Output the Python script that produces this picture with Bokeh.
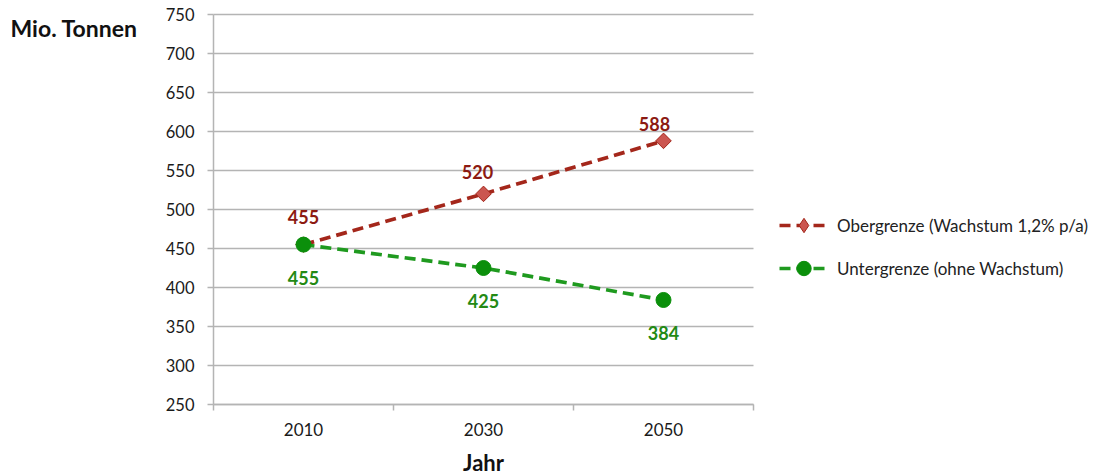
import math
from bokeh.plotting import figure
from bokeh.models import FixedTicker, Legend, LegendItem, Label, ColumnDataSource
from bokeh.core.properties import value
from bokeh.embed import file_html
from bokeh.resources import INLINE

# Data
years = ["2010", "2030", "2050"]
upper = [455, 520, 588]   # Obergrenze (Wachstum 1,2% p/a)
lower = [455, 425, 384]   # Untergrenze (ohne Wachstum)
y_ticks = list(range(250, 751, 50))
upper_name = "Obergrenze (Wachstum 1,2% p/a)"
lower_name = "Untergrenze (ohne Wachstum)"
unit_label = "Mio. Tonnen"
x_label = "Jahr"

# Page layout (pixels): the frame covers the whole canvas, the chart area
# sits inside it so that texts left of / below the axes stay visible.
W, H = 1118, 475
AREA_L, AREA_R, AREA_T, AREA_B = 213, 753, 14, 404

FONT = "Lato"
RED_LINE = "#a4271b"
RED_FILL = "#cb5650"
RED_TEXT = "#8c1a12"
GREEN_LINE = "#1f9a1f"
GREEN_FILL = "#0b8f0b"
GREEN_TEXT = "#238a14"
AXIS_GREY = "#b4b4b4"
TICK_TEXT = "#1a1a1a"

# category slots: each year sits in the middle of its slot
x = [i + 0.5 for i in range(len(years))]
bounds = [float(i) for i in range(len(years) + 1)]
y_lo, y_hi = y_ticks[0], y_ticks[-1]

# data units per pixel
kx = (bounds[-1] - bounds[0]) / (AREA_R - AREA_L)
ky = (y_hi - y_lo) / (AREA_B - AREA_T)


def px_x(px):
    return bounds[0] + (px - AREA_L) * kx


def px_y(py):
    return y_lo + (AREA_B - py) * ky


src = ColumnDataSource(dict(
    x=x,
    upper=upper,
    lower=lower,
    upper_txt=[str(v) for v in upper],
    lower_txt=[str(v) for v in lower],
    up_dx=[0, -6, -9],
    up_dy=[-28, -22, -17],
))

p = figure(width=W, height=H, x_range=(px_x(0), px_x(W)), y_range=(px_y(H), px_y(0)),
           output_backend="svg", toolbar_location=None,
           min_border_left=0, min_border_right=0, min_border_top=0, min_border_bottom=0)
p.outline_line_color = None
p.background_fill_color = "white"
p.xgrid.grid_line_color = None
p.ygrid.grid_line_color = None

# horizontal grid lines across the chart area
p.segment(x0=bounds[0], x1=bounds[-1], y0=y_ticks, y1=y_ticks,
          line_color=AXIS_GREY, line_width=1.5)

# y axis pinned to the left edge of the chart area
p.yaxis.fixed_location = bounds[0]
p.yaxis.bounds = (y_lo, y_hi)
p.yaxis.ticker = FixedTicker(ticks=y_ticks)
p.yaxis.axis_line_color = AXIS_GREY
p.yaxis.axis_line_width = 1.5
p.yaxis.major_tick_line_color = AXIS_GREY
p.yaxis.major_tick_line_width = 1.5
p.yaxis.major_tick_in = 0
p.yaxis.major_tick_out = 6
p.yaxis.minor_tick_line_color = None
p.yaxis.major_label_text_font = FONT
p.yaxis.major_label_text_font_size = "16.5px"
p.yaxis.major_label_text_color = TICK_TEXT
p.yaxis.major_label_standoff = 13

# x axis pinned to the bottom: labels in the middle, tick marks on slot boundaries
p.xaxis.fixed_location = y_lo
p.xaxis.bounds = (bounds[0], bounds[-1])
p.xaxis.ticker = FixedTicker(ticks=x, minor_ticks=bounds)
p.xaxis.major_label_overrides = {xi: yr for xi, yr in zip(x, years)}
p.xaxis.axis_line_color = AXIS_GREY
p.xaxis.axis_line_width = 1.5
p.xaxis.major_tick_line_color = None
p.xaxis.minor_tick_line_color = AXIS_GREY
p.xaxis.minor_tick_line_width = 1.5
p.xaxis.minor_tick_in = 0
p.xaxis.minor_tick_out = 6
p.xaxis.major_label_text_font = FONT
p.xaxis.major_label_text_font_size = "17px"
p.xaxis.major_label_text_color = TICK_TEXT
p.xaxis.major_label_standoff = 12

# axis titles
p.text(x=[(bounds[0] + bounds[-1]) / 2], y=[y_lo], text=[x_label], y_offset=58,
       text_align="center", text_baseline="middle", text_font=value(FONT),
       text_font_style="bold", text_font_size="22px", text_color="#111111")
p.add_layout(Label(x=px_x(10), y=px_y(27), text=unit_label, text_font=FONT,
                   text_font_style="bold", text_font_size="23px",
                   text_color="#111111", text_baseline="middle", text_align="left"))

# series
r_up_line = p.line("x", "upper", source=src, line_color=RED_LINE, line_width=3.7,
                   line_dash="11 6")
r_up_pts = p.scatter("x", "upper", source=src, marker="square", size=11,
                     angle=math.pi / 4,
                     fill_color=RED_FILL, line_color=RED_LINE, line_width=1)
# legend swatch for the upper series (legend glyphs are drawn unrotated);
# its single point sits on the shared 2010 value, beneath the green marker
r_up_key = p.scatter(x=x[:1], y=upper[:1], marker="diamond", size=12,
                     fill_color=RED_FILL, line_color=RED_LINE, line_width=1)
r_lo_line = p.line("x", "lower", source=src, line_color=GREEN_LINE, line_width=3.7,
                   line_dash="11 6")
r_lo_pts = p.scatter("x", "lower", source=src, marker="circle", size=15,
                     fill_color=GREEN_FILL, line_color=GREEN_FILL)

# value labels
p.text("x", "upper", text="upper_txt", source=src, x_offset="up_dx", y_offset="up_dy",
       text_align="center", text_baseline="middle", text_font=value(FONT),
       text_font_style="bold", text_font_size="18px", text_color=RED_TEXT)
p.text("x", "lower", text="lower_txt", source=src, y_offset=33,
       text_align="center", text_baseline="middle", text_font=value(FONT),
       text_font_style="bold", text_font_size="18px", text_color=GREEN_TEXT)

legend = Legend(items=[
    LegendItem(label=upper_name, renderers=[r_up_line, r_up_key]),
    LegendItem(label=lower_name, renderers=[r_lo_line, r_lo_pts]),
], location=(779, H - 286))
legend.border_line_color = None
legend.background_fill_alpha = 0
legend.padding = 0
legend.margin = 0
legend.spacing = 7
legend.glyph_width = 49
legend.glyph_height = 36
legend.label_height = 36
legend.label_standoff = 9
legend.label_text_font = FONT
legend.label_text_font_size = "17px"
legend.label_text_color = "#222222"
legend.label_text_baseline = "middle"
p.add_layout(legend, "center")

open("out.html", "w").write(file_html(p, INLINE))
